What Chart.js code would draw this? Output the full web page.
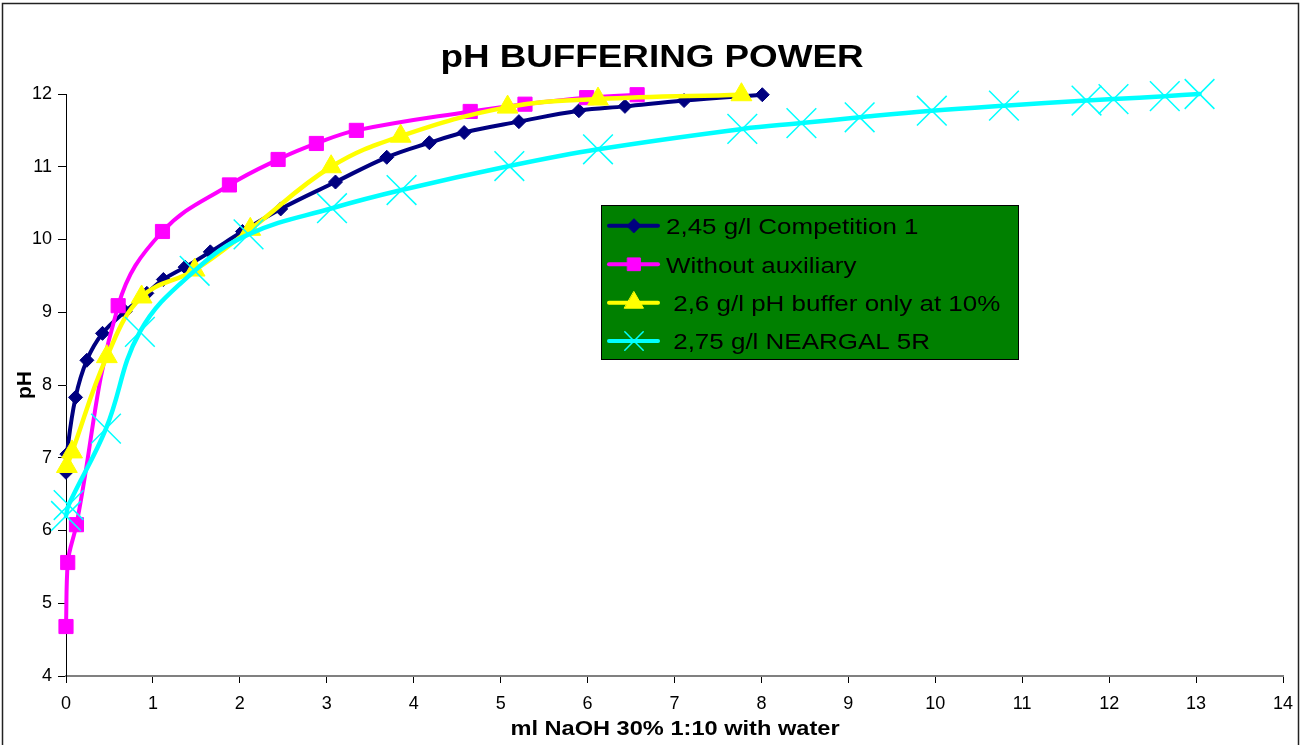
<!DOCTYPE html>
<html>
<head>
<meta charset="utf-8">
<script src="https://cdn.jsdelivr.net/npm/chart.js@4/dist/chart.umd.min.js"></script>
<style>
  html, body { margin: 0; padding: 0; background: #ffffff; }
  #wrap { width: 1309px; height: 745px; position: relative; }
</style>
</head>
<body>
<div id="wrap"><canvas id="c"></canvas></div>
<script>
// ---- Data ----
const chartTitle = 'pH BUFFERING POWER';
const xAxisTitle = 'ml NaOH 30% 1:10 with water';
const yAxisTitle = 'pH';
const seriesLabels = ['2,45 g/l Competition 1', 'Without auxiliary', ' 2,6 g/l pH buffer only at 10%', ' 2,75 g/l NEARGAL 5R'];

const xTickLabels = ['0','1','2','3','4','5','6','7','8','9','10','11','12','13','14'];
const yTickLabels = ['4','5','6','7','8','9','10','11','12'];

const competitionX = [0, 0.01, 0.11, 0.24, 0.42, 0.68, 0.93, 1.12, 1.37, 1.66, 2.03, 2.47, 3.10, 3.69, 4.18, 4.58, 5.21, 5.90, 6.43, 7.11, 8.01];
const competitionY = [6.80, 7.05, 7.83, 8.34, 8.71, 9.01, 9.26, 9.45, 9.62, 9.83, 10.11, 10.42, 10.79, 11.13, 11.33, 11.47, 11.62, 11.77, 11.83, 11.91, 11.99];

const withoutX = [0, 0.02, 0.12, 0.60, 1.11, 1.88, 2.44, 2.88, 3.34, 4.65, 5.28, 5.99, 6.57];
const withoutY = [4.68, 5.56, 6.08, 9.09, 10.11, 10.75, 11.10, 11.32, 11.50, 11.76, 11.86, 11.95, 11.99];

const bufferX = [0.01, 0.07, 0.47, 0.87, 1.48, 2.12, 3.05, 3.85, 5.08, 6.12, 7.77];
const bufferY = [6.88, 7.08, 8.39, 9.21, 9.58, 10.14, 11.00, 11.42, 11.82, 11.93, 11.99];

const neargalX = [0, 0.03, 0.46, 0.85, 1.48, 2.10, 3.06, 3.86, 5.10, 6.12, 7.78, 8.46, 9.13, 9.96, 10.79, 11.74, 12.05, 12.64, 13.04];
const neargalY = [6.20, 6.35, 7.40, 8.73, 9.57, 10.07, 10.43, 10.68, 11.01, 11.24, 11.52, 11.60, 11.68, 11.77, 11.84, 11.91, 11.93, 11.97, 12.00];

// ---- Styles ----
const FONT = "'Liberation Sans', Arial, Helvetica, sans-serif";
const seriesColors = ['#000080', '#FF00FF', '#FFFF00', '#00FFFF'];
const pointStyles = ['rectRot', 'rect', 'triangle', 'crossRot'];

function pts(xs, ys) { return xs.map((x, i) => ({ x: x, y: ys[i] })); }

const datasets = [
  { label: seriesLabels[0], data: pts(competitionX, competitionY), borderColor: seriesColors[0], backgroundColor: seriesColors[0],
    borderWidth: 4, pointStyle: pointStyles[0], pointRadius: 7, pointBorderWidth: 1, pointBackgroundColor: seriesColors[0], pointBorderColor: seriesColors[0], order: 4 },
  { label: seriesLabels[1], data: pts(withoutX, withoutY), borderColor: seriesColors[1], backgroundColor: seriesColors[1],
    borderWidth: 4, pointStyle: pointStyles[1], pointRadius: 10, pointBorderWidth: 1, pointBackgroundColor: seriesColors[1], pointBorderColor: seriesColors[1], order: 3 },
  { label: seriesLabels[2], data: pts(bufferX, bufferY), borderColor: seriesColors[2], backgroundColor: seriesColors[2],
    borderWidth: 4.5, pointStyle: pointStyles[2], pointRadius: 12, pointBorderWidth: 1, pointBackgroundColor: seriesColors[2], pointBorderColor: seriesColors[2], order: 2 },
  { label: seriesLabels[3], data: pts(neargalX, neargalY), borderColor: seriesColors[3], backgroundColor: seriesColors[3],
    borderWidth: 4.5, pointStyle: pointStyles[3], pointRadius: 21, pointBorderWidth: 1.5, pointBackgroundColor: seriesColors[3], pointBorderColor: seriesColors[3], order: 1 }
];

function stretchedText(ctx, text, x, y, sx, align) {
  ctx.save();
  ctx.translate(x, y);
  ctx.scale(sx, 1);
  ctx.textAlign = align || 'left';
  ctx.fillText(text, 0, 0);
  ctx.restore();
}

function drawMarker(ctx, style, r, color, bw, x, y) {
  const opts = { pointStyle: style, radius: r, rotation: 0, borderWidth: bw };
  ctx.save();
  ctx.fillStyle = color;
  ctx.strokeStyle = color;
  ctx.lineWidth = bw;
  Chart.helpers.drawPoint(ctx, opts, x, y);
  ctx.restore();
}

const decorPlugin = {
  id: 'decor',
  beforeDraw(chart) {
    const ctx = chart.ctx;
    ctx.save();
    ctx.fillStyle = '#ffffff';
    ctx.fillRect(0, 0, chart.width, chart.height);
    ctx.strokeStyle = '#222222';
    ctx.lineWidth = 1.5;
    ctx.strokeRect(2.5, 3.5, 1296, 760);
    ctx.restore();
  },
  afterDraw(chart) {
    const ctx = chart.ctx;
    ctx.save();
    ctx.fillStyle = '#000000';
    ctx.textBaseline = 'alphabetic';
    // Title
    ctx.font = 'bold 32px ' + FONT;
    stretchedText(ctx, chartTitle, 652, 67, 1.15, 'center');
    // X axis title
    ctx.font = 'bold 20px ' + FONT;
    stretchedText(ctx, xAxisTitle, 675, 735, 1.18, 'center');
    // Y axis title
    ctx.save();
    ctx.translate(31, 385);
    ctx.rotate(-Math.PI / 2);
    ctx.font = 'bold 21px ' + FONT;
    ctx.textAlign = 'center';
    ctx.fillText(yAxisTitle, 0, 0);
    ctx.restore();

    // Legend
    const L = 601, T = 205, R = 1018, B = 359;
    ctx.fillStyle = '#008000';
    ctx.fillRect(L, T, R - L, B - T);
    ctx.strokeStyle = '#000000';
    ctx.lineWidth = 1;
    ctx.strokeRect(L + 0.5, T + 0.5, R - L, B - T);
    const rowY = [225.7, 264.3, 302.7, 341];
    const legR = [7, 9, 11, 13];
    for (let i = 0; i < seriesLabels.length; i++) {
      const y = rowY[i];
      ctx.strokeStyle = seriesColors[i];
      ctx.lineWidth = 4;
      ctx.lineCap = 'round';
      ctx.beginPath();
      ctx.moveTo(609, y);
      ctx.lineTo(658, y);
      ctx.stroke();
      drawMarker(ctx, pointStyles[i], legR[i], seriesColors[i], i === 3 ? 1.5 : 1, 634, y);
      ctx.fillStyle = '#000000';
      ctx.font = '22px ' + FONT;
      stretchedText(ctx, seriesLabels[i], 666, y + 8.3, 1.18, 'left');
    }
    ctx.restore();
  }
};

new Chart(document.getElementById('c'), {
  type: 'line',
  data: { datasets: datasets },
  plugins: [decorPlugin],
  options: {
    responsive: true,
    maintainAspectRatio: false,
    animation: false,
    events: [],
    layout: { padding: { left: 0, right: 26, top: 94, bottom: 0 } },
    elements: { line: { tension: 0.4, fill: false, borderCapStyle: 'round', borderJoinStyle: 'round' } },
    datasets: { line: { clip: false } },
    plugins: {
      legend: { display: false },
      title: { display: false },
      tooltip: { enabled: false }
    },
    scales: {
      x: {
        type: 'linear', min: 0, max: 14,
        afterFit(s) { s.height = 69; },
        ticks: {
          stepSize: 1, padding: 10, color: '#000000', maxRotation: 0, autoSkip: false,
          font: { family: FONT, size: 18 },
          callback: (v) => xTickLabels[Math.round(v)]
        },
        grid: { drawOnChartArea: false, drawTicks: true, tickLength: 7, color: '#000000', lineWidth: 1 },
        border: { display: true, color: '#808080', width: 2 }
      },
      y: {
        type: 'linear', min: 4, max: 12,
        afterFit(s) { s.width = 66; },
        ticks: {
          stepSize: 1, padding: 6, color: '#000000',
          font: { family: FONT, size: 18 },
          callback: (v) => yTickLabels[Math.round(v) - 4]
        },
        grid: { drawOnChartArea: false, drawTicks: true, tickLength: 8, color: '#000000', lineWidth: 1 },
        border: { display: true, color: '#000000', width: 1 }
      }
    }
  }
});
</script>
</body>
</html>
